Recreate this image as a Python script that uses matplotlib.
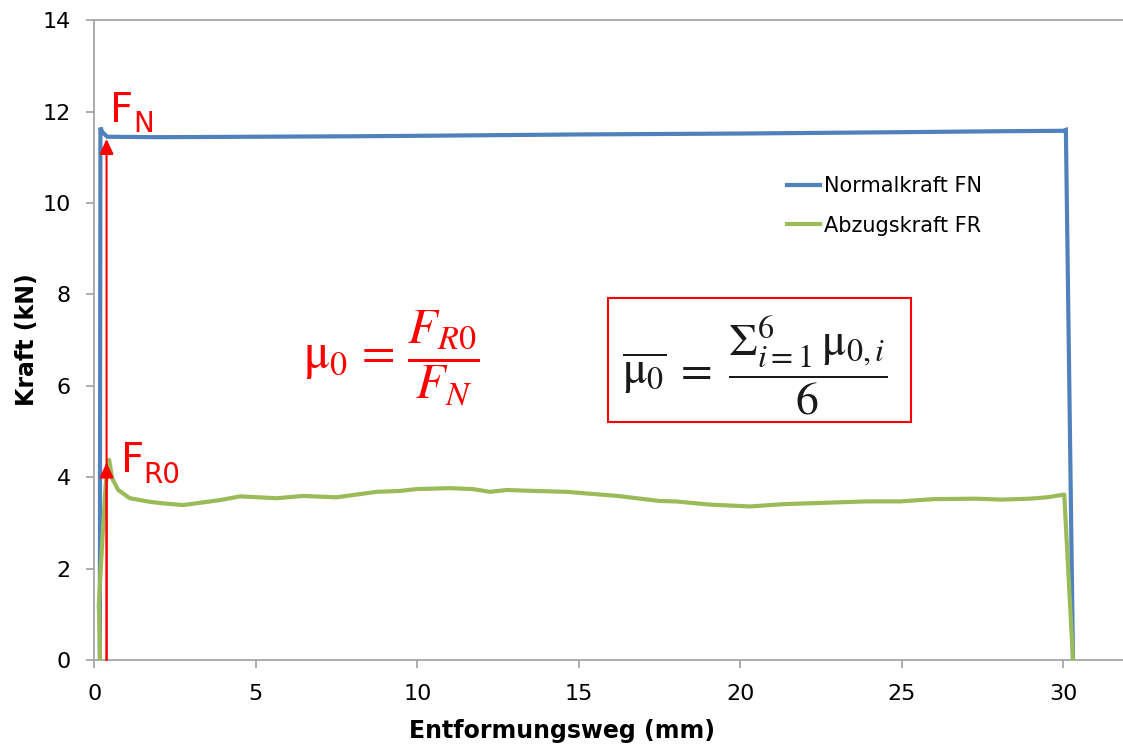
import numpy as np
import matplotlib
matplotlib.use("Agg")
import matplotlib.pyplot as plt
from matplotlib.patches import Rectangle

plt.rcParams["font.family"] = ["DejaVu Sans"]
plt.rcParams["mathtext.fontset"] = "stix"

# Normalkraft FN (kN) over Entformungsweg (mm)
weg_fn = [0.17, 0.19, 0.25, 0.40, 2.0, 5.0, 8.0, 10.0, 15.0, 20.0, 25.0,
          28.0, 30.0, 30.08, 30.30]
kraft_fn = [0.0, 11.65, 11.55, 11.45, 11.44, 11.45, 11.46, 11.47, 11.50,
            11.52, 11.55, 11.57, 11.58, 11.60, 0.0]

# Abzugskraft FR (kN) over Entformungsweg (mm)
weg_fr = [0.18, 0.15, 0.14, 0.20, 0.28, 0.35, 0.42, 0.46, 0.55, 0.74, 1.1,
          1.73, 2.1, 2.75, 3.9, 4.51, 5.65, 6.46, 7.5, 8.74, 9.47, 9.98,
          11.0, 11.72, 12.25, 12.77, 13.6, 14.62, 16.2, 17.5, 18.0, 19.06,
          20.3, 21.33, 22.16, 23.9, 24.95, 25.98, 27.3, 28.1, 28.96, 29.5,
          30.03, 30.15, 30.3]
kraft_fr = [0.0, 1.0, 1.2, 2.0, 3.0, 3.8, 4.3, 4.38, 3.98, 3.72, 3.54,
            3.46, 3.43, 3.39, 3.50, 3.58, 3.54, 3.59, 3.56, 3.68, 3.70, 3.74,
            3.76, 3.74, 3.68, 3.72, 3.70, 3.68, 3.59, 3.48, 3.47, 3.40,
            3.36, 3.41, 3.43, 3.47, 3.47, 3.52, 3.53, 3.51, 3.53, 3.56,
            3.62, 2.0, 0.0]

# Reference values marked by the red arrows
arrow_weg = 0.38
f_r0 = 4.32
f_n = 11.40

x_ticks = [0, 5, 10, 15, 20, 25, 30]
y_ticks = [0, 2, 4, 6, 8, 10, 12, 14]

W, H = 1123, 744
fig = plt.figure(figsize=(W / 100, H / 100), dpi=100)
x0, y0 = 94.3, 660.0
px_mm, px_kn = 32.3, 45.7
x_max, y_max = 32, 14
ax = fig.add_axes([x0 / W, (H - y0) / H, x_max * px_mm / W, y_max * px_kn / H])

blue = "#4F81BD"
green = "#9BBB59"
ax.plot(weg_fn, kraft_fn, color=blue, lw=3.0, label="Normalkraft FN",
        solid_joinstyle="miter", zorder=3)
ax.plot(weg_fr, kraft_fr, color=green, lw=3.0, label="Abzugskraft FR",
        solid_joinstyle="round", zorder=3)

arrow_style = dict(arrowstyle="-|>,head_length=0.6,head_width=0.28",
                   color="red", lw=1.5, mutation_scale=15,
                   shrinkA=0, shrinkB=0)
ax.annotate("", xy=(arrow_weg, f_n), xytext=(arrow_weg, 0),
            arrowprops=arrow_style, zorder=5)
ax.annotate("", xy=(arrow_weg, f_r0), xytext=(arrow_weg, 0),
            arrowprops=arrow_style, zorder=5)

# F_N and F_R0 labels
ax.text(0.50, 11.77, "F", color="red", fontsize=29, ha="left", va="baseline")
ax.text(1.22, 11.55, "N", color="red", fontsize=20, ha="left", va="baseline")
ax.text(0.82, 4.11, "F", color="red", fontsize=29, ha="left", va="baseline")
ax.text(1.52, 3.87, "R0", color="red", fontsize=20, ha="left", va="baseline")

# Formulas
ax.text(9.19, 6.60, r"$\mathrm{\mu}_0 \,=\, \dfrac{F_{R0}}{F_N}$", color="red",
        fontsize=35, ha="center", va="center")
ax.add_patch(Rectangle((15.9, 5.21), 9.4, 2.71, fill=False, ec="red",
                       lw=1.5, zorder=4))
ax.text(20.45, 6.43,
        r"$\overline{\mathrm{\mu}_0} \;=\; \dfrac{\Sigma_{i=1}^{6}\,\mathrm{\mu}_{0,i}}{6}$",
        color="#1a1a1a", fontsize=33, ha="center", va="center", zorder=5)

ax.set_xlim(0, x_max)
ax.set_ylim(0, y_max)
ax.set_xticks(x_ticks)
ax.set_yticks(y_ticks)

spine_c = "#A6A6A6"
for side in ("left", "top", "bottom"):
    ax.spines[side].set_color(spine_c)
    ax.spines[side].set_linewidth(1.3)
ax.spines["right"].set_visible(False)
ax.tick_params(axis="both", direction="out", length=6, width=1.3,
               color=spine_c, labelsize=16, labelcolor="black", pad=11)

ax.set_xlabel("Entformungsweg (mm)", fontsize=17, fontweight="bold", va="center")
ax.set_ylabel("Kraft (kN)", fontsize=17, fontweight="bold", va="center")
ax.xaxis.set_label_coords((562 - x0) / (x_max * px_mm), (y0 - 731) / (y_max * px_kn))
ax.yaxis.set_label_coords((27 - x0) / (x_max * px_mm), (y0 - 340) / (y_max * px_kn))

leg = ax.legend(loc="upper left",
                bbox_to_anchor=((787 - x0) / (x_max * px_mm), (y0 - 176) / (y_max * px_kn)),
                frameon=False, fontsize=15, handlelength=1.6, handletextpad=0.2,
                labelspacing=0.95, borderpad=0, borderaxespad=0)
for line in leg.get_lines():
    line.set_linewidth(3.0)

fig.savefig("out.png", dpi=100, facecolor="white")
